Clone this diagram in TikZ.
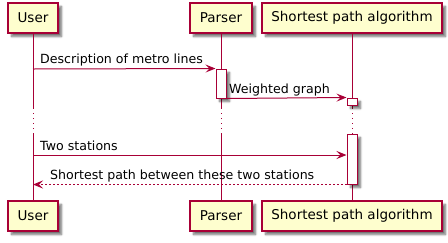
\documentclass[tikz,border=0pt]{standalone}
\usepackage{fontspec}
\setmainfont{DejaVu Sans}
\usetikzlibrary{arrows.meta,shadows.blur}
\definecolor{umlred}{HTML}{A80036}
\definecolor{umlfill}{HTML}{FEFECE}
\tikzset{
  softshadow/.style={blur shadow={shadow xshift=3.5pt, shadow yshift=-3.5pt,
      shadow blur steps=6, shadow blur radius=2pt, shadow opacity=55}},
  participant/.style={draw=umlred, fill=umlfill, line width=1.5pt,
      minimum height=30pt, inner sep=0pt,
      font=\fontsize{13.5}{16}\selectfont, softshadow},
  activation/.style={draw=umlred, fill=white, line width=1pt,
      minimum width=10pt, inner sep=0pt, softshadow},
  lifeline/.style={draw=umlred, line width=1pt},
  delayline/.style={draw=umlred, line width=1pt, dash pattern=on 1pt off 4pt},
  msg/.style={draw=umlred, line width=1pt,
      -{Stealth[length=10pt,width=8pt,inset=4pt]}},
  reply/.style={msg, dash pattern=on 2pt off 2pt},
  msglabel/.style={anchor=base west, inner sep=0pt,
      font=\fontsize{12.6}{15}\selectfont},
}
\begin{document}
\begin{tikzpicture}[x=1pt, y=-1pt]
  \useasboundingbox (0,0) rectangle (448,242);

  % participants, top and bottom
  \node[participant, minimum width=50pt]  (uTop) at (33,18)  {User};
  \node[participant, minimum width=62pt]  (pTop) at (221,18) {Parser};
  \node[participant, minimum width=180pt] (sTop) at (352,18) {Shortest path algorithm};
  \node[participant, minimum width=50pt]  (uBot) at (33,216)  {User};
  \node[participant, minimum width=62pt]  (pBot) at (221,216) {Parser};
  \node[participant, minimum width=180pt] (sBot) at (352,216) {Shortest path algorithm};

  % lifelines, dotted during the delay
  \foreach \t/\b in {uTop/uBot, pTop/pBot, sTop/sBot}{
    \coordinate (\t-d1) at (\t.south |- 0,108);
    \coordinate (\t-d2) at (\t.south |- 0,133);
    \draw[lifeline] (\t.south) -- (\t-d1);
    \draw[delayline] (\t-d1) -- (\t-d2);
    \draw[lifeline] (\t-d2) -- (\b.north);
  }

  % activations
  \node[activation, minimum height=29pt] (pAct)  at (221,83.5) {};
  \node[activation, minimum height=7pt]  (sAct1) at (352,101.5) {};
  \node[activation, minimum height=50pt] (sAct2) at (352,159) {};

  % messages
  \coordinate (m1) at (33,69);
  \draw[msg] (m1) -- (pAct.north west);
  \node[msglabel] (l1) at (40,63.5) {Description of metro lines};

  \draw[msg] (pAct.south east) -- (sAct1.north west);
  \node[msglabel] (l2) at (229,93) {Weighted graph};

  \coordinate (m3) at (33,155);
  \draw[msg] (m3) -- (m3 -| sAct2.west);
  \node[msglabel] (l3) at (40,150) {Two stations};

  \draw[reply] (sAct2.south west) -- (sAct2.south west -| uTop.south);
  \node[msglabel] (l4) at (50,179) {Shortest path between these two stations};
\end{tikzpicture}
\end{document}
